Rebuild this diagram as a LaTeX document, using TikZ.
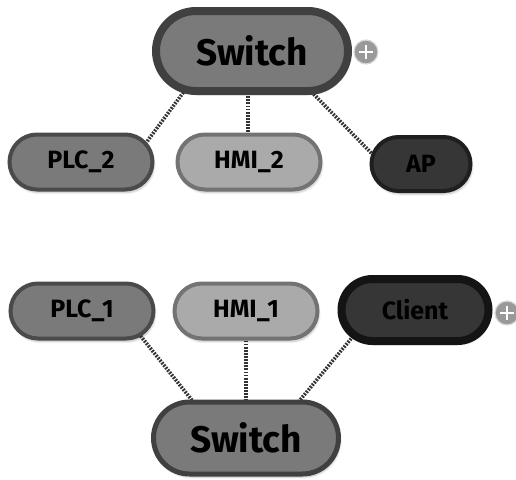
\documentclass[tikz,border=0pt]{standalone}
\usepackage{fontspec}
\setmainfont{Fira Sans}
\usepackage{xcolor}
\usetikzlibrary{calc,shapes.misc,shadows.blur,backgrounds}
\definecolor{midgray}{HTML}{7A7A7A}
\definecolor{lightgray}{HTML}{AAAAAA}
\definecolor{darkfill}{HTML}{363636}
\definecolor{rimgray}{HTML}{4A4A4A}
\tikzset{
	device/.style={
			rounded rectangle, draw=rimgray, fill=midgray, line width=4pt,
			inner sep=0pt, minimum width=143pt, minimum height=55pt,
			font=\fontsize{25}{28}\selectfont\bfseries,
			blur shadow={shadow xshift=1.5pt, shadow yshift=-3pt, shadow opacity=25, shadow blur steps=6}
		},
	hub/.style={device, draw=black!75, font=\fontsize{37}{40}\selectfont\bfseries},
	link/.style={draw=black!80, line width=3.6pt, dash pattern=on 1.8pt off 1.3pt},
	expander/.style={
			circle, draw=white!85!black, line width=1.2pt, fill=black!40, inner sep=0pt,
			minimum size=24pt,
			path picture={
					\draw[white, line width=2pt] ([xshift=-7pt]path picture bounding box.center) -- ([xshift=7pt]path picture bounding box.center);
					\draw[white, line width=2pt] ([yshift=-7pt]path picture bounding box.center) -- ([yshift=7pt]path picture bounding box.center);
				}
		}
}

\begin{document}
\begin{tikzpicture}[x=1pt, y=-1pt]
        \useasboundingbox (0,0) rectangle (516,479);

        % upper group
        \node[hub, line width=8pt, minimum width=192pt, minimum height=80pt] (sw2) at (252,51) {Switch};
        \node[expander] (plus2) at (366,52) {};
        \node[device] (plc2) at (81,162) {PLC\_2};
        \node[device, fill=lightgray, draw=black!55] (hmi2) at (249,162) {HMI\_2};
        \node[device, fill=darkfill, draw=black!88, minimum width=99pt, minimum height=54pt] (ap) at (421,164) {AP};

        % lower group
        \node[device] (plc1) at (82,311) {PLC\_1};
        \node[device, fill=lightgray, draw=black!55] (hmi1) at (246,311) {HMI\_1};
        \node[device, fill=darkfill, draw=black!92, line width=8pt, minimum width=147pt, minimum height=62pt] (client) at (415,310) {Client};
        \node[expander] (plus1) at (507,313) {};
        \node[hub, line width=5pt, minimum width=185pt, minimum height=72pt] (sw1) at (246,438) {Switch};

        \begin{pgfonlayer}{background}
            \draw[link] ($(sw2)+(-52,19)$) -- ($(plc2)+(56,-7)$);
            \draw[link] ($(sw2)+(-4,8)$) -- ($(hmi2)+(-1,-12)$);
            \draw[link] ($(sw2)+(40,21)$) -- ($(ap)+(-38,1)$);

            \draw[link] ($(plc1)+(45,8)$) -- ($(sw1)+(-39,-19)$);
            \draw[link] ($(hmi1)+(0,14)$) -- ($(sw1)+(0,-18)$);
            \draw[link] ($(client)+(-50,12)$) -- ($(sw1)+(39,-20)$);
        \end{pgfonlayer}
    \end{tikzpicture}
\end{document}
